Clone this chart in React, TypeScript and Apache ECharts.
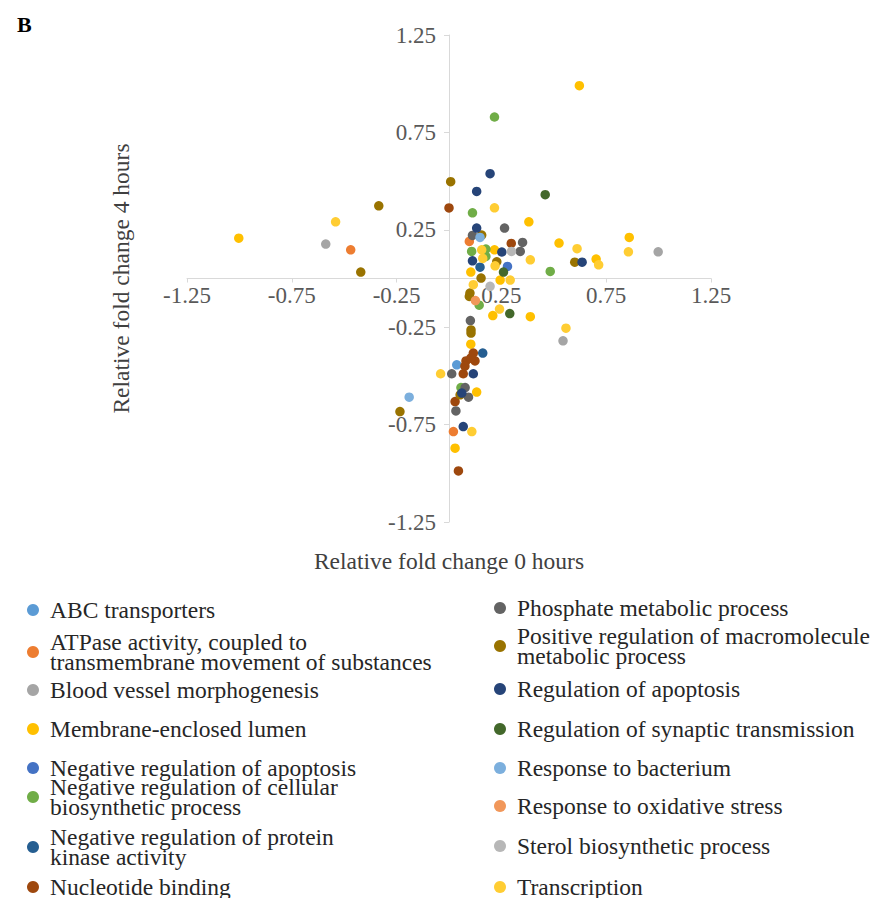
import React, { useEffect, useRef } from "react";
import * as echarts from "echarts";

const CATEGORIES = [
  "ABC transporters",
  "ATPase activity, coupled to transmembrane movement of substances",
  "Blood vessel morphogenesis",
  "Membrane-enclosed lumen",
  "Negative regulation of apoptosis",
  "Negative regulation of cellular biosynthetic process",
  "Negative regulation of protein kinase activity",
  "Nucleotide binding",
  "Phosphate metabolic process",
  "Positive regulation of macromolecule metabolic process",
  "Regulation of apoptosis",
  "Regulation of synaptic transmission",
  "Response to bacterium",
  "Response to oxidative stress",
  "Sterol biosynthetic process",
  "Transcription",
];

const LEGEND_LABELS: Record<string, string> = {
  "ATPase activity, coupled to transmembrane movement of substances":
    "ATPase activity, coupled to\ntransmembrane movement of substances",
  "Negative regulation of cellular biosynthetic process":
    "Negative regulation of cellular\nbiosynthetic process",
  "Negative regulation of protein kinase activity":
    "Negative regulation of protein\nkinase activity",
  "Positive regulation of macromolecule metabolic process":
    "Positive regulation of macromolecule\nmetabolic process",
};

const COLORS = [
  "#5B9BD5", "#ED7D31", "#A5A5A5", "#FFC000", "#4472C4", "#70AD47", "#255E91", "#9E480E",
  "#636363", "#997300", "#264478", "#43682B", "#7CAFDD", "#F1975A", "#B7B7B7", "#FFCD33",
];

const TICK_VALUES = [-1.25, -0.75, -0.25, 0.25, 0.75, 1.25];

// [relative fold change 0 h, relative fold change 4 h]
const abcTransporters = [[0.037, -0.443]];
const atpaseActivity = [[-0.469, 0.147], [0.097, 0.19], [0.021, -0.786]];
const bloodVessel = [[-0.588, 0.177], [0.998, 0.137], [0.544, -0.32]];
const membraneLumen = [
  [0.622, 0.99], [0.381, 0.291], [-1.003, 0.207], [0.217, 0.147], [0.525, 0.182],
  [0.86, 0.211], [0.702, 0.1], [0.104, 0.033], [0.244, -0.008], [0.209, -0.19],
  [0.388, -0.196], [0.104, -0.337], [0.132, -0.583], [0.029, -0.871],
];
const negRegApoptosis = [[0.279, 0.062]];
const negRegBiosynthetic = [
  [0.217, 0.829], [0.112, 0.337], [0.108, 0.139], [0.176, 0.151], [0.176, 0.113],
  [0.483, 0.036], [0.144, -0.137], [0.057, -0.56],
];
const negRegKinase = [[0.148, 0.058], [0.161, -0.383]];
const nucleotideBinding = [
  [0.0, 0.362], [0.297, 0.18], [0.116, -0.383], [0.081, -0.423], [0.124, -0.423],
  [0.104, -0.409], [0.068, -0.489], [0.076, -0.45], [0.029, -0.632], [0.045, -0.988],
];
const phosphateMetabolic = [
  [0.265, 0.259], [0.112, 0.221], [0.351, 0.185], [0.34, 0.139], [0.102, -0.216],
  [0.013, -0.489], [0.077, -0.56], [0.093, -0.609], [0.033, -0.68],
];
const positiveRegulation = [
  [0.008, 0.497], [-0.335, 0.373], [-0.421, 0.033], [0.228, 0.086], [0.153, 0.002],
  [0.1, -0.075], [0.097, -0.092], [0.105, -0.264], [0.105, -0.28], [0.6, 0.084],
  [0.053, -0.597], [-0.234, -0.683], [0.156, 0.223],
];
const regApoptosis = [
  [0.196, 0.538], [0.132, 0.447], [0.132, 0.259], [0.252, 0.136], [0.112, 0.091],
  [0.635, 0.084], [0.116, -0.489], [0.061, -0.588], [0.068, -0.76],
];
const regSynaptic = [[0.459, 0.43], [0.26, 0.033], [0.29, -0.18]];
const responseBacterium = [[0.148, 0.211], [-0.19, -0.609]];
const responseOxidative = [[0.126, -0.113]];
const sterolBiosynthetic = [[0.298, 0.139], [0.196, -0.04]];
const transcription = [
  [0.217, 0.363], [-0.541, 0.291], [0.156, 0.147], [0.388, 0.096], [0.611, 0.153],
  [0.856, 0.137], [0.714, 0.07], [0.161, 0.103], [0.22, 0.065], [0.292, -0.008],
  [0.116, -0.032], [0.241, -0.157], [0.558, -0.255], [-0.04, -0.489], [0.109, -0.786],
];

const SERIES_DATA = [
  abcTransporters, atpaseActivity, bloodVessel, membraneLumen, negRegApoptosis,
  negRegBiosynthetic, negRegKinase, nucleotideBinding, phosphateMetabolic,
  positiveRegulation, regApoptosis, regSynaptic, responseBacterium, responseOxidative,
  sterolBiosynthetic, transcription,
];

const FONT = "'Liberation Serif', 'Times New Roman', serif";

// legend item layout (top of each item box)
const LEGEND_TOPS = [598, 630, 678, 717, 756, 775, 825, 875, 596, 624, 677, 717, 756, 794, 834, 875];

// grid geometry
const GRID_LEFT = 187;
const GRID_RIGHT = 170;
const GRID_TOP = 35;
const GRID_BOTTOM = 376;
const CHART_W = 881;
const CHART_H = 898;
const PLOT_W = CHART_W - GRID_LEFT - GRID_RIGHT;
const PLOT_H = CHART_H - GRID_TOP - GRID_BOTTOM;
// axes cross at value 0, which is the middle of the symmetric ranges
const Y_AXIS_OFFSET = -PLOT_W / 2;
const X_AXIS_OFFSET = -PLOT_H / 2;

export default function App() {
  const ref = useRef<HTMLDivElement>(null);
  useEffect(() => {
    document.body.style.margin = "0";
    if (!ref.current) return;
    const chart = echarts.init(ref.current, null, { renderer: "svg" });
    const legends = CATEGORIES.map((name, i) => ({
      data: [name],
      left: i < 8 ? 27 : 494,
      top: LEGEND_TOPS[i],
      orient: "vertical",
      icon: "circle",
      itemWidth: 12,
      itemHeight: 12,
      selectedMode: false,
      padding: 0,
      formatter: (n: string) => LEGEND_LABELS[n] || n,
      textStyle: {
        fontFamily: FONT,
        fontSize: 23.5,
        lineHeight: 20,
        color: "#262626",
        padding: [0, 0, 0, 6],
      },
    }));
    const axisCommon = {
      type: "value",
      min: -1.25,
      max: 1.25,
      interval: 0.25,
      splitLine: { show: false },
      axisLine: { onZero: false, lineStyle: { color: "#d9d9d9", width: 1 } },
      nameTextStyle: { fontFamily: FONT, fontSize: 23.5, color: "#404040" },
      nameLocation: "middle",
    };
    chart.setOption({
      animation: false,
      backgroundColor: "#ffffff",
      title: {
        text: "B",
        left: 12,
        top: 8,
        textStyle: { fontFamily: FONT, fontSize: 22, fontWeight: "bold", color: "#000" },
      },
      grid: {
        left: GRID_LEFT,
        right: GRID_RIGHT,
        top: GRID_TOP,
        bottom: GRID_BOTTOM,
        containLabel: false,
        outerBoundsMode: "none",
      },
      legend: legends,
      xAxis: {
        ...axisCommon,
        position: "bottom",
        offset: X_AXIS_OFFSET,
        name: "Relative fold change 0 hours",
        nameGap: 270,
        axisTick: { show: true, length: 4, customValues: TICK_VALUES, lineStyle: { color: "#d9d9d9" } },
        axisLabel: {
          customValues: TICK_VALUES,
          margin: 5,
          fontFamily: FONT,
          fontSize: 23,
          color: "#595959",
          formatter: (v: number) => String(v),
        },
      },
      yAxis: {
        ...axisCommon,
        position: "left",
        offset: Y_AXIS_OFFSET,
        name: "Relative fold change 4 hours",
        nameGap: 316,
        axisTick: { show: true, length: 5, customValues: TICK_VALUES, lineStyle: { color: "#d9d9d9" } },
        axisLabel: {
          customValues: TICK_VALUES,
          margin: 13,
          fontFamily: FONT,
          fontSize: 23,
          color: "#595959",
          formatter: (v: number) => String(v),
        },
      },
      series: CATEGORIES.map((name, i) => ({
        name,
        type: "scatter",
        data: SERIES_DATA[i],
        symbol: "circle",
        symbolSize: 9.5,
        itemStyle: { color: COLORS[i], opacity: 1 },
        emphasis: { disabled: true },
      })),
    });
    return () => chart.dispose();
  }, []);
  return <div ref={ref} style={{ width: CHART_W, height: CHART_H }} />;
}
